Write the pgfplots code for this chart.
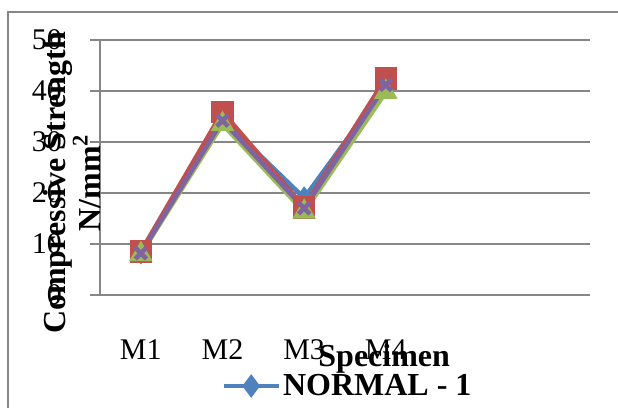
\documentclass[border=0pt]{standalone}
\usepackage{fontspec}
\setmainfont{Liberation Serif}
\usepackage{pgfplots}
\pgfplotsset{compat=1.18}
\definecolor{xlblue}{HTML}{4F81BD}
\definecolor{xlred}{HTML}{C0504D}
\definecolor{xlgreen}{HTML}{9BBB59}
\definecolor{xlpurple}{HTML}{8064A2}
\definecolor{gridgray}{HTML}{868686}
\begin{document}
\begin{tikzpicture}
\path[use as bounding box] (0,0) rectangle (309bp,204bp);
\draw[gridgray, line width=1bp] (4bp,-5bp) |- (320bp,198bp);
\begin{axis}[
  at={(50bp,56.5bp)}, anchor=south west,
  scale only axis, width=245bp, height=127.5bp,
  xmin=0.5, xmax=6.5, ymin=0, ymax=50,
  xtick={1,2,3,4}, xticklabels={M1,M2,M3,M4},
  ytick={0,10,20,30,40,50},
  ytick pos=left, xtick pos=bottom,
  tick align=outside, major tick length=5bp,
  xtick style={draw=none},
  ytick style={gridgray, line width=1bp},
  ymajorgrids, grid style={gridgray, line width=1bp},
  axis x line*=bottom, axis y line*=left,
  axis line style={gridgray, line width=1bp, -},
  /pgf/number format/assume math mode=true,
  tick label style={font=\fontsize{15bp}{18bp}\selectfont},
  xticklabel style={yshift=-14bp},
  yticklabel style={xshift=-10.5bp},
  xlabel={\textbf{Specimen}},
  xlabel style={font=\fontsize{16bp}{19bp}\selectfont, at={(axis description cs:0.58,-0.28)}, anchor=base},
  ylabel={\textbf{Compressive Strength}\\\textbf{N/mm\textsuperscript{2}}},
  ylabel style={font=\fontsize{16bp}{17.5bp}\selectfont, align=center, at={(axis description cs:-0.058,0.44)}, anchor=center},
  legend style={at={(axis description cs:0.247,-0.357)}, anchor=west, draw=none, fill=none, inner sep=0pt,
    font=\fontsize{16bp}{19bp}\selectfont\bfseries, column sep=0pt, nodes={inner sep=1bp}},
  legend image code/.code={\draw[mark repeat=2,mark phase=2] plot coordinates {(0bp,0bp)(13.75bp,0bp)(27.5bp,0bp)};},
  every axis plot/.append style={line width=2.3bp},
]
\addplot[color=xlblue, mark=diamond*, mark size=4bp, mark options={solid}] coordinates {(1,8.3)(2,34.5)(3,19.0)(4,41.0)};
\addlegendentry{NORMAL - 1}
\addplot[color=xlred, mark=square*, mark size=4.5bp, forget plot] coordinates {(1,8.5)(2,35.9)(3,17.2)(4,42.5)};
\addplot[color=xlgreen, mark=triangle*, mark size=4.5bp, forget plot] coordinates {(1,8.0)(2,33.5)(3,16.3)(4,39.8)};
\addplot[color=xlpurple, mark=x, mark size=4bp, forget plot] coordinates {(1,8.2)(2,34.2)(3,17.0)(4,41.2)};
\end{axis}
\end{tikzpicture}
\end{document}
